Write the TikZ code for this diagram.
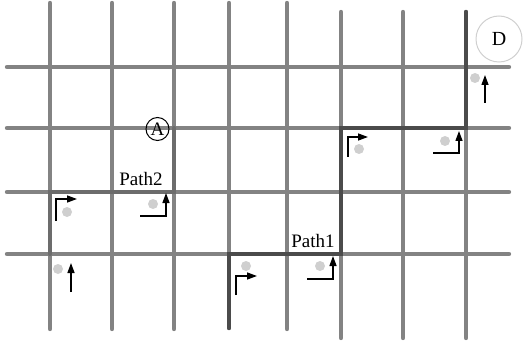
\documentclass[tikz,border=0pt]{standalone}
\usepackage{fontspec}
\setmainfont{Liberation Serif}
\usepackage{tikz}
\usetikzlibrary{arrows.meta}
\definecolor{gris}{HTML}{838383}
\definecolor{grisuno}{HTML}{4B4B4B}
\definecolor{grisdos}{HTML}{6C6C6C}
\definecolor{claro}{HTML}{CFCFCF}
\definecolor{borde}{HTML}{CFCFCF}
\tikzset{
  calle/.style={draw=gris, line width=4.4pt, line cap=round},
  rutauno/.style={draw=grisuno, line width=4.4pt, line cap=round, line join=miter},
  rutados/.style={draw=grisdos, line width=4.4pt, line cap=round, line join=miter},
  giro/.style={draw=black, line width=1.3pt, -{Triangle[length=10pt,width=7pt]}},
  punto/.style={fill=claro},
  rotulo/.style={font=\fontsize{19}{19}\selectfont, inner sep=1pt},
}

\begin{document}
\begin{tikzpicture}[x=1pt, y=-1pt]
  \useasboundingbox (0,0) rectangle (525,342);
  % calles
  \foreach \x/\t/\b in {50/3/329, 112/3/329, 174/3/329, 229/3/328, 287/3/329, 341/12/338, 403/12/338, 466/12/338}
    \draw[calle] (\x,\t) -- (\x,\b);
  \foreach \y in {67,128,192,254}
    \draw[calle] (7,\y) -- (509,\y);
  % cruces
  \foreach \x [count=\i] in {50,112,174,229,287,341,403,466}
    \foreach \y [count=\j] in {67,128,192,254}
      \coordinate (c\i\j) at (\x,\y);
  \coordinate (ini1) at (229,328);
  \coordinate (fin1) at (466,12);
  % rutas
  \draw[rutados] (c14) -- (c13) -- (c33) -- (c32);
  \draw[rutauno] (ini1) -- (c44) -- (c64) -- (c62) -- (c82) -- (fin1);
  % puntos y giros
  \fill[punto] (67,212) circle (5);  \draw[giro] (56,221) |- (77,199);
  \fill[punto] (153,204) circle (5); \draw[giro] (140,216) -| (166,193);
  \fill[punto] (58,269) circle (5);  \draw[giro] (71,292) -- (71,263);
  \fill[punto] (246,266) circle (5); \draw[giro] (236,295) |- (257,276);
  \fill[punto] (320,266) circle (5); \draw[giro] (307,279) -| (333,256);
  \fill[punto] (359,149) circle (5); \draw[giro] (348,157) |- (368,137);
  \fill[punto] (445,141) circle (5); \draw[giro] (433,153) -| (459,131);
  \fill[punto] (475,78) circle (5);  \draw[giro] (485,103) -- (485,75);
  % rotulos
  \node[rotulo] (p2) at (141,179) {Path2};
  \node[rotulo] (p1) at (313,241) {Path1};
  \node[circle, draw, line width=1pt, minimum size=23pt, inner sep=0pt, font=\fontsize{19}{19}\selectfont] (a) at (157.5,129) {A};
  \node[circle, draw=borde, line width=1pt, minimum size=46pt, inner sep=0pt, font=\fontsize{20}{20}\selectfont] (d) at (499,39) {D};
\end{tikzpicture}
\end{document}
